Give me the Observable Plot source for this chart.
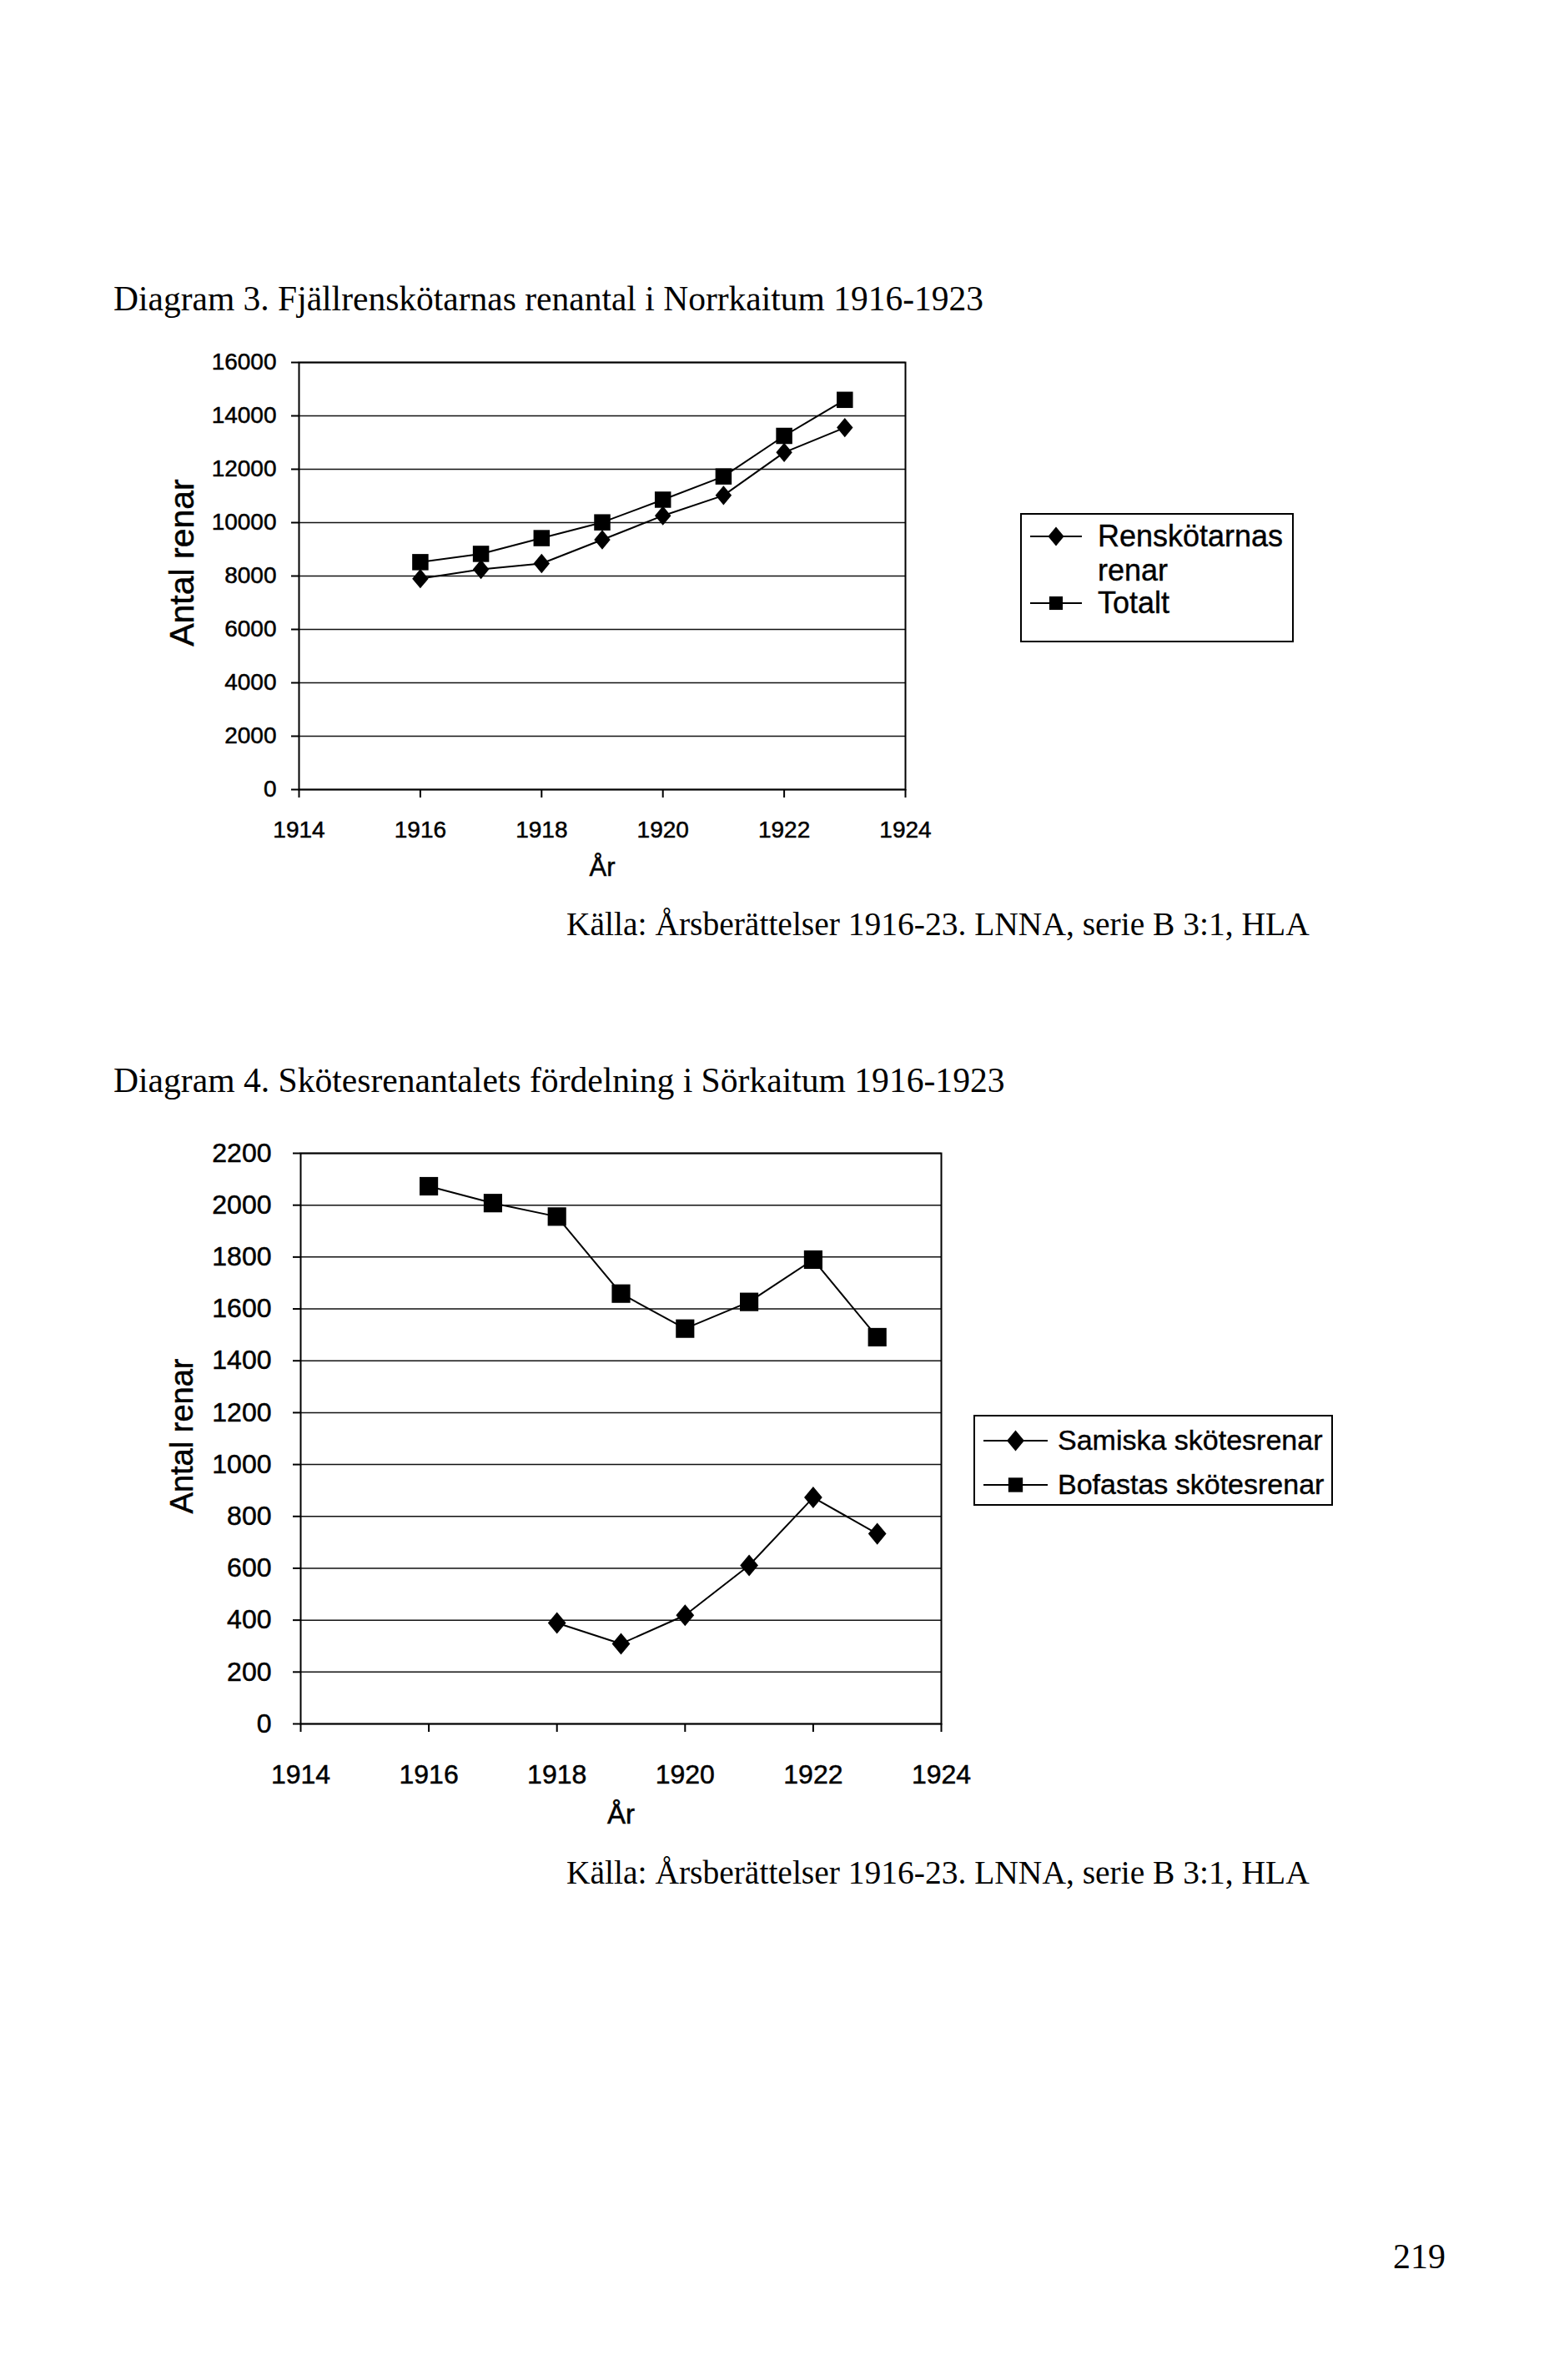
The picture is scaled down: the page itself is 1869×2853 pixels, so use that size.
<!DOCTYPE html>
<html>
<head>
<meta charset="utf-8">
<script src="https://cdn.jsdelivr.net/npm/d3@7"></script>
<script src="https://cdn.jsdelivr.net/npm/@observablehq/plot@0.6"></script>
<style>
  html, body { margin: 0; padding: 0; background: #fff; }
  #page { position: relative; width: 1869px; height: 2853px; background: #fff; overflow: hidden; }
  .abs { position: absolute; }
  .serif { font-family: "Liberation Serif", "Times New Roman", serif; color: #000; white-space: nowrap; }
  .sans { font-family: "Liberation Sans", Arial, sans-serif; color: #000; white-space: nowrap; -webkit-text-stroke: 0.4px #000; }
  .legend { position: absolute; border: 2px solid #000; background: #fff; box-sizing: border-box; }
  svg.chart text { stroke: #000; stroke-width: 0.5px; }
</style>
</head>
<body>
<div id="page"></div>
<script>
// ---------- Data ----------
const years1 = [1916, 1917, 1918, 1919, 1920, 1921, 1922, 1923];
const renskotarnasRenar = [7900, 8250, 8470, 9360, 10260, 11020, 12630, 13560];
const totalt = [8520, 8830, 9420, 10010, 10860, 11730, 13250, 14600];

const yearsBofastas = [1916, 1917, 1918, 1919, 1920, 1921, 1922, 1923];
const bofastas = [2073, 2008, 1956, 1659, 1524, 1627, 1790, 1491];
const yearsSamiska = [1918, 1919, 1920, 1921, 1922, 1923];
const samiska = [389, 309, 419, 611, 873, 733];

const xTicks = [1914, 1916, 1918, 1920, 1922, 1924];
const yTicks1 = [0, 2000, 4000, 6000, 8000, 10000, 12000, 14000, 16000];
const yTicks2 = [0, 200, 400, 600, 800, 1000, 1200, 1400, 1600, 1800, 2000, 2200];

const series1 = ["Renskötarnas renar", "Totalt"];
const series2 = ["Samiska skötesrenar", "Bofastas skötesrenar"];

const title1 = "Diagram 3. Fjällrenskötarnas renantal i Norrkaitum 1916-1923";
const title2 = "Diagram 4. Skötesrenantalets fördelning i Sörkaitum 1916-1923";
const caption = "Källa: Årsberättelser 1916-23. LNNA, serie B 3:1, HLA";
const yLabel = "Antal renar";
const xLabel = "År";
const pageNumber = "219";

// ---------- Tidy tables ----------
const data1 = [
  ...years1.map((y, i) => ({year: y, value: renskotarnasRenar[i], series: series1[0]})),
  ...years1.map((y, i) => ({year: y, value: totalt[i], series: series1[1]}))
];
const data2 = [
  ...yearsSamiska.map((y, i) => ({year: y, value: samiska[i], series: series2[0]})),
  ...yearsBofastas.map((y, i) => ({year: y, value: bofastas[i], series: series2[1]}))
];

// Slightly tall filled diamond (Excel-style marker)
const excelDiamond = {
  draw(context, size) {
    const w = Math.sqrt(size / 2.4);
    const h = w * 1.2;
    context.moveTo(0, -h);
    context.lineTo(w, 0);
    context.lineTo(0, h);
    context.lineTo(-w, 0);
    context.closePath();
  }
};

const page = document.getElementById("page");
function addText(txt, cls, left, top, size, extra) {
  const d = document.createElement("div");
  d.className = "abs " + cls;
  d.textContent = txt;
  d.style.left = left + "px";
  d.style.top = top + "px";
  d.style.fontSize = size + "px";
  d.style.lineHeight = "1";
  if (extra) Object.assign(d.style, extra);
  page.appendChild(d);
  return d;
}

function makeChart(opts) {
  const chart = Plot.plot({
    className: "chart",
    width: opts.width,
    height: opts.height,
    marginLeft: opts.mL,
    marginRight: opts.mR,
    marginTop: opts.mT,
    marginBottom: opts.mB,
    style: {fontFamily: "Liberation Sans, Arial, sans-serif", fontSize: opts.tickFont + "px", color: "#000", background: "transparent"},
    x: {domain: [1914, 1924]},
    y: {domain: [0, opts.yMax]},
    marks: [
      Plot.ruleY(opts.yTicks, {stroke: "#111", strokeWidth: 1.5}),
      Plot.frame({stroke: "#000", strokeWidth: 2}),
      Plot.axisY({ticks: opts.yTicks, tickFormat: d => String(d), tickSize: 9, tickPadding: opts.yPad, strokeWidth: 2, label: null, fontSize: opts.tickFont}),
      Plot.axisX({ticks: xTicks, tickFormat: d => String(d), tickSize: 10, tickPadding: opts.xPad, strokeWidth: 2, label: null, fontSize: opts.tickFont}),
      Plot.line(opts.data, {x: "year", y: "value", z: "series", stroke: "#000", strokeWidth: 2}),
      Plot.dot(opts.data.filter(d => d.series === opts.diamondSeries), {x: "year", y: "value", symbol: () => excelDiamond, r: opts.rD, fill: "#000", stroke: "none"}),
      Plot.dot(opts.data.filter(d => d.series !== opts.diamondSeries), {x: "year", y: "value", symbol: () => "square", r: opts.rS, fill: "#000", stroke: "none"}),
      Plot.text([yLabel], {frameAnchor: "left", textAnchor: "middle", lineAnchor: "middle", dx: opts.yLabelDx, dy: opts.yLabelDy, rotate: -90, fontSize: opts.yLabelFont, fill: "#000"}),
      Plot.text([xLabel], {frameAnchor: "bottom", textAnchor: "middle", lineAnchor: "middle", dy: opts.xLabelDy, fontSize: opts.xLabelFont, fill: "#000"})
    ]
  });
  chart.style.position = "absolute";
  chart.style.left = opts.left + "px";
  chart.style.top = opts.top + "px";
  page.appendChild(chart);
}

// ---------- Chart 1 ----------
addText(title1, "serif", 136, 338, 41.5);
makeChart({
  data: data1, diamondSeries: series1[0],
  left: 0, top: 400, width: 1150, height: 680,
  mL: 358, mR: 65, mT: 34, mB: 134,
  yMax: 16000, yTicks: yTicks1, tickFont: 28, yPad: 18, xPad: 28,
  rD: 8.5, rS: 11,
  yLabelDx: -140, yLabelDy: -16, yLabelFont: 41, xLabelDy: 94, xLabelFont: 31
});
addText(caption, "serif", 679, 1089, 39.5);

// Legend markers (decorative swatches)
function legendMarker(container, x, y, w, symbol, size) {
  const ns = "http://www.w3.org/2000/svg";
  const svg = document.createElementNS(ns, "svg");
  svg.setAttribute("width", w);
  svg.setAttribute("height", 30);
  svg.style.position = "absolute";
  svg.style.left = x + "px";
  svg.style.top = (y - 15) + "px";
  const line = document.createElementNS(ns, "line");
  line.setAttribute("x1", 0); line.setAttribute("x2", w);
  line.setAttribute("y1", 15); line.setAttribute("y2", 15);
  line.setAttribute("stroke", "#000"); line.setAttribute("stroke-width", 2);
  svg.appendChild(line);
  const p = document.createElementNS(ns, "path");
  const sym = symbol === "diamond" ? excelDiamond : d3.symbolSquare;
  p.setAttribute("d", d3.symbol(sym, size)());
  p.setAttribute("transform", `translate(${w / 2},15)`);
  p.setAttribute("fill", "#000");
  svg.appendChild(p);
  container.appendChild(svg);
}
function legText(container, txt, left, cy, size) {
  const d = document.createElement("div");
  d.className = "abs sans";
  d.textContent = txt;
  d.style.left = left + "px";
  d.style.top = (cy - size * 0.55) + "px";
  d.style.fontSize = size + "px";
  d.style.lineHeight = "1.1";
  container.appendChild(d);
}

const leg1 = document.createElement("div");
leg1.className = "legend";
Object.assign(leg1.style, {left: "1223px", top: "615px", width: "328px", height: "155px"});
page.appendChild(leg1);
legendMarker(leg1, 10, 26, 62, "diamond", 220);
legendMarker(leg1, 10, 106, 62, "square", 260);
legText(leg1, "Renskötarnas", 91, 26, 36);
legText(leg1, "renar", 91, 67, 36);
legText(leg1, "Totalt", 91, 106, 36);

// ---------- Chart 2 ----------
addText(title2, "serif", 136, 1275, 41.6);
makeChart({
  data: data2, diamondSeries: series2[0],
  left: 0, top: 1340, width: 1180, height: 880,
  mL: 360, mR: 52, mT: 42, mB: 154,
  yMax: 2200, yTicks: yTicks2, tickFont: 32, yPad: 26, xPad: 39,
  rD: 9.5, rS: 12.5,
  yLabelDx: -142, yLabelDy: -3, yLabelFont: 38, xLabelDy: 109, xLabelFont: 33
});
addText(caption, "serif", 679, 2226, 39.5);

const leg2 = document.createElement("div");
leg2.className = "legend";
Object.assign(leg2.style, {left: "1167px", top: "1696px", width: "431px", height: "109px"});
page.appendChild(leg2);
legendMarker(leg2, 10, 29, 77, "diamond", 260);
legendMarker(leg2, 10, 82, 77, "square", 300);
legText(leg2, "Samiska skötesrenar", 99, 29, 34);
legText(leg2, "Bofastas skötesrenar", 99, 82, 34);

// Page number
addText(pageNumber, "serif", 1670, 2684, 42);
</script>
</body>
</html>
